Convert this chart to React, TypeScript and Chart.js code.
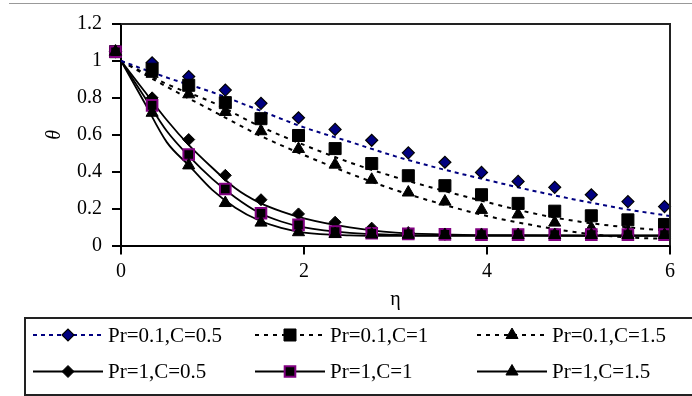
import React, { useEffect, useRef } from 'react';
import { Chart, registerables } from 'chart.js';

Chart.register(...registerables);

const FONT = '"Liberation Serif", "Times New Roman", serif';

// ---- data ----
const etaMarkers = [-0.06, 0.34, 0.74, 1.14, 1.53, 1.94, 2.34, 2.74, 3.14, 3.54, 3.94, 4.34, 4.74, 5.14, 5.54, 5.94];

const markA = [1.05, 0.99, 0.915, 0.842, 0.77, 0.692, 0.629, 0.57, 0.502, 0.451, 0.396, 0.347, 0.315, 0.275, 0.238, 0.211];
const markB = [1.05, 0.955, 0.868, 0.774, 0.687, 0.596, 0.525, 0.444, 0.378, 0.324, 0.275, 0.228, 0.186, 0.161, 0.139, 0.114];
const markC = [1.05, 0.93, 0.819, 0.723, 0.619, 0.523, 0.438, 0.356, 0.287, 0.238, 0.193, 0.168, 0.124, 0.095, 0.08, 0.07];
const markD = [1.05, 0.8, 0.574, 0.38, 0.248, 0.171, 0.126, 0.094, 0.07, 0.06, 0.058, 0.057, 0.057, 0.057, 0.057, 0.057];
const markE = [1.05, 0.759, 0.493, 0.306, 0.175, 0.112, 0.075, 0.066, 0.063, 0.06, 0.059, 0.059, 0.059, 0.059, 0.059, 0.059];
const markF = [1.05, 0.719, 0.434, 0.23, 0.124, 0.072, 0.062, 0.06, 0.058, 0.057, 0.057, 0.057, 0.057, 0.057, 0.057, 0.057];

const etaLinePr01 = [0, 0.5, 1, 1.5, 2, 2.5, 3, 3.5, 4, 4.5, 5, 5.5, 6];
const lineA = [1.0, 0.91, 0.83, 0.735, 0.64, 0.562, 0.483, 0.415, 0.355, 0.297, 0.245, 0.198, 0.16];
const lineB = [1.0, 0.875, 0.775, 0.65, 0.545, 0.45, 0.37, 0.3, 0.235, 0.175, 0.13, 0.1, 0.08];
const lineC = [1.0, 0.86, 0.73, 0.6, 0.49, 0.39, 0.3, 0.225, 0.16, 0.11, 0.07, 0.045, 0.035];

const etaLinePr1 = [0, 0.25, 0.5, 0.75, 1, 1.25, 1.5, 1.75, 2, 2.5, 3, 3.5, 4, 5, 6];
const lineD = [1.0, 0.84, 0.68, 0.54, 0.42, 0.31, 0.235, 0.185, 0.147, 0.098, 0.07, 0.06, 0.056, 0.055, 0.055];
const lineE = [1.0, 0.81, 0.62, 0.48, 0.36, 0.26, 0.18, 0.13, 0.098, 0.068, 0.058, 0.055, 0.055, 0.054, 0.054];
const lineF = [1.0, 0.78, 0.56, 0.43, 0.3, 0.205, 0.138, 0.095, 0.07, 0.055, 0.052, 0.052, 0.052, 0.052, 0.052];

const seriesLabels = ['Pr=0.1,C=0.5', 'Pr=0.1,C=1', 'Pr=0.1,C=1.5', 'Pr=1,C=0.5', 'Pr=1,C=1', 'Pr=1,C=1.5'];
const yTickLabels = ['0', '0.2', '0.4', '0.6', '0.8', '1', '1.2'];
const xTickLabels = ['0', '2', '4', '6'];
const xTitle = 'η';
const yTitle = 'θ';

const markerValues = [markA, markB, markC, markD, markE, markF];
const lineEtas = [etaLinePr01, etaLinePr01, etaLinePr01, etaLinePr1, etaLinePr1, etaLinePr1];
const lineValues = [lineA, lineB, lineC, lineD, lineE, lineF];

// ---- styles ----
const styles = [
  { lineColor: '#000080', dash: [4, 4], lineWidth: 2, pointStyle: 'rectRot', radius: 6, fill: '#000080', stroke: '#000', bw: 1.2 },
  { lineColor: '#000', dash: [4, 5], lineWidth: 2, pointStyle: 'rect', radius: 8.5, fill: '#000', stroke: '#000', bw: 1 },
  { lineColor: '#000', dash: [4, 5], lineWidth: 2, pointStyle: 'triangle', radius: 7, fill: '#000', stroke: '#000', bw: 1 },
  { lineColor: '#000', dash: [], lineWidth: 1.8, pointStyle: 'rectRot', radius: 6, fill: '#000', stroke: '#000', bw: 1 },
  { lineColor: '#000', dash: [], lineWidth: 1.8, pointStyle: 'rect', radius: 7.5, fill: '#000', stroke: '#800080', bw: 2 },
  { lineColor: '#000', dash: [], lineWidth: 1.8, pointStyle: 'triangle', radius: 7, fill: '#000', stroke: '#000', bw: 1 },
];

function drawMarker(ctx: CanvasRenderingContext2D, style: string, x: number, y: number, r: number, fill: string, stroke: string, bw: number) {
  ctx.beginPath();
  if (style === 'rectRot') {
    ctx.moveTo(x - r, y);
    ctx.lineTo(x, y - r);
    ctx.lineTo(x + r, y);
    ctx.lineTo(x, y + r);
    ctx.closePath();
  } else if (style === 'rect') {
    const s = Math.SQRT1_2 * r;
    ctx.rect(x - s, y - s, 2 * s, 2 * s);
  } else {
    ctx.moveTo(x, y - r);
    ctx.lineTo(x + 0.866 * r, y + 0.5 * r);
    ctx.lineTo(x - 0.866 * r, y + 0.5 * r);
    ctx.closePath();
  }
  ctx.fillStyle = fill;
  ctx.fill();
  if (bw > 0) {
    ctx.lineWidth = bw;
    ctx.strokeStyle = stroke;
    ctx.stroke();
  }
}

const framePlugin = {
  id: 'plotFrame',
  afterDraw(chart: any) {
    const { ctx, chartArea } = chart;
    ctx.save();
    ctx.strokeStyle = '#222';
    ctx.lineWidth = 2;
    ctx.beginPath();
    ctx.moveTo(chartArea.left, chartArea.top);
    ctx.lineTo(chartArea.right, chartArea.top);
    ctx.lineTo(chartArea.right, chartArea.bottom);
    ctx.stroke();
    ctx.restore();
  },
};

const legendPlugin = {
  id: 'seriesLegend',
  afterDraw(chart: any) {
    const ctx = chart.ctx as CanvasRenderingContext2D;
    const box = { left: 25, top: 318, right: 720, bottom: 395 };
    ctx.save();
    ctx.strokeStyle = '#222';
    ctx.lineWidth = 2;
    ctx.strokeRect(box.left, box.top, box.right - box.left, box.bottom - box.top);
    seriesLabels.forEach((label, i) => {
      const s = styles[i];
      const col = i % 3;
      const row = Math.floor(i / 3);
      const x0 = box.left + 8 + col * 222;
      const y = box.top + 17 + row * 36.5;
      ctx.setLineDash(s.dash);
      ctx.strokeStyle = s.lineColor;
      ctx.lineWidth = s.lineWidth;
      ctx.beginPath();
      ctx.moveTo(x0, y);
      ctx.lineTo(x0 + 70, y);
      ctx.stroke();
      ctx.setLineDash([]);
      drawMarker(ctx, s.pointStyle, x0 + 35, y, s.radius, s.fill, s.stroke, s.bw);
      ctx.fillStyle = '#000';
      ctx.font = `21px ${FONT}`;
      ctx.textAlign = 'left';
      ctx.textBaseline = 'middle';
      ctx.fillText(label, x0 + 75, y + 1);
    });
    ctx.restore();
  },
};

export default function App() {
  const canvasRef = useRef<HTMLCanvasElement | null>(null);

  useEffect(() => {
    if (!canvasRef.current) return;
    const datasets: any[] = [];
    styles.forEach((s, i) => {
      datasets.push({
        type: 'line',
        label: seriesLabels[i] + ' curve',
        data: lineEtas[i].map((x, k) => ({ x, y: lineValues[i][k] })),
        borderColor: s.lineColor,
        borderWidth: s.lineWidth,
        borderDash: s.dash,
        pointRadius: 0,
        cubicInterpolationMode: 'monotone',
        fill: false,
        order: 20 + i,
      });
      datasets.push({
        type: 'line',
        label: seriesLabels[i],
        data: etaMarkers.map((x, k) => ({ x, y: markerValues[i][k] })),
        showLine: false,
        pointStyle: s.pointStyle,
        pointRadius: s.radius,
        pointBackgroundColor: s.fill,
        pointBorderColor: s.stroke,
        pointBorderWidth: s.bw,
        order: 10 - i,
        clip: false,
      });
    });

    const tickFont = { family: FONT, size: 20 };
    const chart = new Chart(canvasRef.current, {
      type: 'line',
      data: { datasets },
      options: {
        responsive: false,
        animation: false,
        events: [],
        layout: { padding: { left: 0, top: 24, right: 22, bottom: 84 } },
        plugins: { legend: { display: false }, tooltip: { enabled: false } },
        scales: {
          x: {
            type: 'linear',
            min: 0,
            max: 6,
            ticks: {
              stepSize: 2,
              color: '#000',
              font: tickFont,
              padding: 5,
              maxRotation: 0,
              callback: (_v: any, i: number) => xTickLabels[i],
            },
            grid: { drawOnChartArea: false, color: '#000', lineWidth: 2, tickLength: 9 },
            border: { color: '#000', width: 2 },
            title: { display: true, text: xTitle, color: '#000', font: tickFont, padding: 0 },
            afterFit: (scale: any) => {
              scale.height = 66.5;
            },
          },
          y: {
            type: 'linear',
            min: 0,
            max: 1.2,
            ticks: {
              stepSize: 0.2,
              color: '#000',
              font: tickFont,
              padding: 10,
              callback: (_v: any, i: number) => yTickLabels[i],
            },
            grid: { drawOnChartArea: false, color: '#000', lineWidth: 2, tickLength: 9 },
            border: { color: '#000', width: 2 },
            title: {
              display: true,
              text: yTitle,
              color: '#000',
              font: { family: FONT, size: 20, style: 'italic' },
              padding: { top: 43, bottom: 0 },
            },
            afterFit: (scale: any) => {
              scale.width = 121;
            },
          },
        },
      } as any,
      plugins: [framePlugin, legendPlugin],
    });
    return () => chart.destroy();
  }, []);

  return (
    <div style={{ position: 'absolute', left: 0, top: 0, width: 692, height: 396, background: '#fff', overflow: 'hidden' }}>
      <div style={{ position: 'absolute', left: 9, right: 0, top: 3, height: 0, borderTop: '1px solid #999' }} />
      <canvas ref={canvasRef} width={692} height={396} style={{ position: 'absolute', left: 0, top: 0, width: 692, height: 396 }} />
    </div>
  );
}
